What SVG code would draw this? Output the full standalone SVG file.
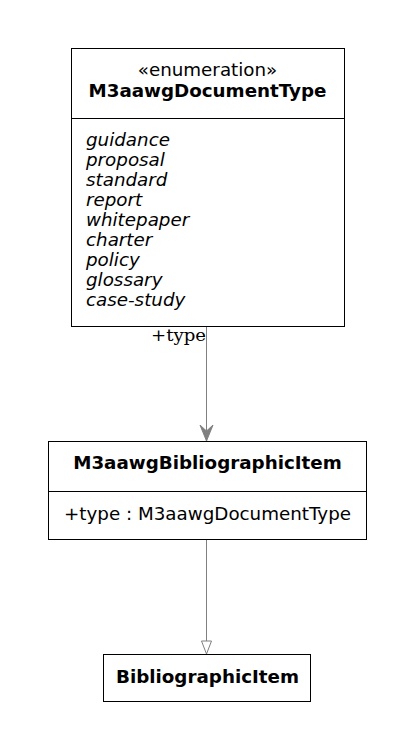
<svg xmlns="http://www.w3.org/2000/svg" width="415" height="751" viewBox="0 0 415 751">
<defs>
<style>
.box{fill:#fff;stroke:#000;stroke-width:1}
.t{font-family:"DejaVu Sans",sans-serif;font-size:18.3px;fill:#000}
.b{font-weight:bold}
.i{font-style:italic}
.c{text-anchor:middle}
.conn{stroke:#808080;stroke-width:1;fill:none}
.lbl{font-family:"DejaVu Serif",serif;font-size:17.5px;fill:#000}
</style>
<marker id="vee" markerWidth="17" markerHeight="16" refX="16" refY="8" orient="auto" markerUnits="userSpaceOnUse" viewBox="0 0 17 16">
<path d="M0,1.5 L16,8 L0,14.5 L6,8 Z" fill="#808080" stroke="#808080" stroke-width="1"/>
</marker>
<marker id="tri" markerWidth="15" markerHeight="12" refX="14" refY="6" orient="auto" markerUnits="userSpaceOnUse" viewBox="0 0 15 12">
<path d="M1,1 L14,6 L1,11 Z" fill="#fff" stroke="#808080" stroke-width="1"/>
</marker>
</defs>
<rect width="415" height="751" fill="#fff"/>
<g id="connectors">
<path class="conn" d="M206.5,327 L206.5,441" marker-end="url(#vee)"/>
<text class="lbl" x="151" y="341" textLength="55" lengthAdjust="spacingAndGlyphs">+type</text>
<path class="conn" d="M206.5,540 L206.5,654" marker-end="url(#tri)"/>
</g>
<g id="M3aawgDocumentType">
<rect class="box" x="71.5" y="48.5" width="273" height="278"/>
<line x1="71.5" y1="118.5" x2="344.5" y2="118.5" stroke="#000"/>
<text class="t c" x="207.5" y="76">«enumeration»</text>
<text class="t b c" x="207.5" y="97">M3aawgDocumentType</text>
<text class="t i" x="86" y="146">guidance</text>
<text class="t i" x="86" y="166">proposal</text>
<text class="t i" x="86" y="186">standard</text>
<text class="t i" x="86" y="206">report</text>
<text class="t i" x="86" y="226">whitepaper</text>
<text class="t i" x="86" y="246">charter</text>
<text class="t i" x="86" y="266">policy</text>
<text class="t i" x="86" y="286">glossary</text>
<text class="t i" x="86" y="306">case-study</text>
</g>
<g id="M3aawgBibliographicItem">
<rect class="box" x="48.5" y="441.5" width="318" height="98"/>
<line x1="48.5" y1="491.5" x2="366.5" y2="491.5" stroke="#000"/>
<text class="t b c" x="207.5" y="469">M3aawgBibliographicItem</text>
<text class="t" x="64" y="520">+type : M3aawgDocumentType</text>
</g>
<g id="BibliographicItem">
<rect class="box" x="103.5" y="654.5" width="207" height="47"/>
<text class="t b c" x="207.5" y="683">BibliographicItem</text>
</g>
</svg>
